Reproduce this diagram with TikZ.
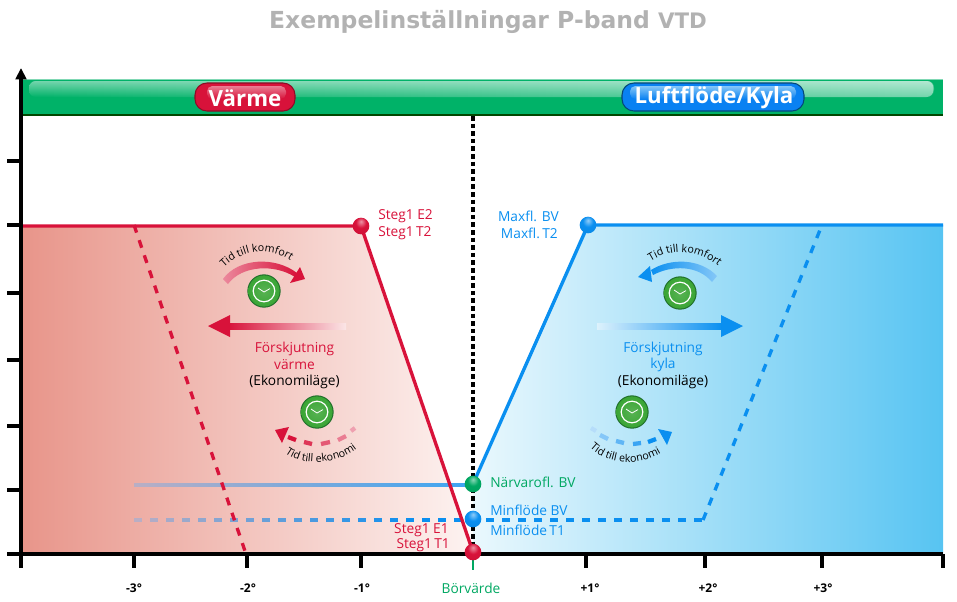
\documentclass[tikz,border=0pt]{standalone}
\usepackage{fontspec}
\setmainfont{Open Sans}
\newfontfamily\titlefont{DejaVu Sans}
\usepackage{tikz}
\usetikzlibrary{arrows.meta,calc,fadings}
\usetikzlibrary{positioning,decorations.text}

\definecolor{varmred}{HTML}{D8123A}
\definecolor{kylblue}{HTML}{0A8FF0}
\definecolor{barwgreen}{HTML}{00B268}
\definecolor{valgreen}{HTML}{00A862}
\definecolor{fadegray}{HTML}{B9AEC4}
\definecolor{redleft}{HTML}{E8958A}
\definecolor{redright}{HTML}{FDF3F1}
\definecolor{blueleft}{HTML}{EAF8FD}
\definecolor{blueright}{HTML}{57C4F2}
\definecolor{clockgreen}{HTML}{3AA535}
\definecolor{clockedge}{HTML}{1F6E2A}

\pgfdeclareradialshading{redball}{\pgfpoint{0bp}{14bp}}{color(0bp)=(varmred!45!white); color(16bp)=(varmred); color(48bp)=(varmred!92!black); color(62bp)=(varmred!45!black)}
\pgfdeclareradialshading{blueball}{\pgfpoint{0bp}{14bp}}{color(0bp)=(kylblue!45!white); color(16bp)=(kylblue); color(48bp)=(kylblue!92!black); color(62bp)=(kylblue!45!black)}
\pgfdeclareradialshading{greenball}{\pgfpoint{0bp}{14bp}}{color(0bp)=(valgreen!45!white); color(16bp)=(valgreen); color(48bp)=(valgreen!92!black); color(62bp)=(valgreen!45!black)}

\begin{document}
\begin{tikzpicture}[
      x=0.75pt, y=-0.75pt, on grid, inner sep=0pt,
      axisline/.style={draw=black, line width=2.4pt},
      tickline/.style={draw=black, line width=2.4pt},
      redline/.style={draw=varmred, line width=2.5pt},
      blueline/.style={draw=kylblue, line width=2.5pt},
      ballnode/.style={circle, minimum size=12.5pt},
      pillbox/.style={rounded corners=9pt, line width=0.8pt},
      pilltext/.style={text=white, font=\bfseries\fontsize{16.7}{20}\selectfont},
      lbl/.style={font=\fontsize{10.3}{12}\selectfont},
      ticklbl/.style={font=\bfseries\fontsize{9}{11}\selectfont},
      curvetxt/.style={decorate, decoration={text along path, text align=center,
            text={|\fontsize{8}{10}\selectfont|#1}}},
      clockicon/.pic={
        \fill[clockedge] (0,0) circle (12.5pt);
        \shade[inner color=clockgreen!85!white, outer color=clockgreen] (0,0) circle (11.7pt);
        \draw[white, line width=0.9pt] (0,0) circle (8.1pt);
        \draw[white, line width=0.6pt] (-6,-3) -- (0,1) -- (6,-2.4);
      }]

      \useasboundingbox (0,0) rectangle (957,601);

      % Areas
      \shade[left color=redleft, right color=redright]
            (22,225) -- (361,225) -- (473,554) -- (22,554) -- cycle;
      \shade[left color=blueleft, right color=blueright]
            (473,554) -- (473,485) -- (586,225) -- (943,225) -- (943,554) -- cycle;

      % Points
      \coordinate (e2) at (361,226);
      \coordinate (e1) at (473,552);
      \coordinate (bv) at (588,225);
      \coordinate (nv) at (473,484);
      \coordinate (mf) at (473,519);
      \coordinate (barbot) at (473,116);
      \coordinate (origin) at (21,554);
      \coordinate (axend) at (943,554);
      \coordinate (aytop) at (21,68);

      % Setpoint line
      \draw[black, line width=2.3pt, dash pattern=on 3.4pt off 2.3pt] (barbot) -- (473,554);

      % Min lines
      \shade[left color=fadegray, right color=kylblue!80!white]
            (134,483.3) rectangle (473,486.7);
      \foreach \dashx in {134,150,...,700} {
        \pgfmathsetmacro{\pct}{min(100,(\dashx-134)*0.36)}
        \draw[kylblue!\pct!fadegray, line width=2.4pt]
              (\dashx,520) -- ++(8,0);
      }
      \draw[blueline, dash pattern=on 6pt off 6pt] (703,520) -- (822,225);

      % Red and blue lines
      \draw[redline, dash pattern=on 6pt off 6pt] (134,225) -- (246,554);
      \draw[redline] (origin |- e2) -- (e2) -- (e1);
      \draw[blueline] (nv) -- (bv) -- (943,225);

      % Axes
      \draw[axisline] (origin) -- (7,554);
      \draw[axisline] (origin) -- (axend);
      \foreach \ypos in {490,426,360,293,225,161}
        \draw[tickline] (21,\ypos) -- (7,\ypos);
      \foreach \xpos in {21,134,247,361,586,705,822,943}
        \draw[tickline] (\xpos,554) -- (\xpos,568);
      \draw[valgreen, line width=2.1pt] (473,555) -- (473,570);

      % Bar
      \fill[barwgreen] (22,79) rectangle (943,116);
      \fill[barwgreen!50!white] (22,79) rectangle (943,80);
      \fill[black!65!green!80!black] (22,113.5) rectangle (943,116);
      \shade[top color=barwgreen!55!white, bottom color=barwgreen, rounded corners=5pt]
            (29,81) rectangle (934,97);
      \fill[white, opacity=0.45, path fading=west, rounded corners=5pt] (29,81) rectangle (934,97);
      \draw[axisline, -{Triangle[length=8.5pt,width=8pt]}] (origin) -- (aytop);

      % Pills
      \draw[pillbox, fill=varmred, draw=varmred!65!black] (195,83) rectangle (295,111);
      \shade[top color=varmred!55!white, bottom color=varmred, rounded corners=4pt] (207,86) rectangle (286,99);
      \draw[pillbox, fill=kylblue!90!blue, draw=kylblue!50!black] (622,83) rectangle (804,111);
      \shade[top color=kylblue!50!white, bottom color=kylblue!90!blue, rounded corners=4pt] (630,86) rectangle (796,99);
      \node[pilltext] (varme) at (245,98) {Värme};
      \node[pilltext] (luft) at (714,98) {Luftflöde/Kyla};

      % Title
      \node[text=black!30, font=\titlefont\bfseries\fontsize{17.6}{21}\selectfont] (title) at (488,22)
            {Exempelinställningar P-band {\fontsize{16}{21}\selectfont VTD}};

      % Balls
      \node[ballnode, shading=redball] (b1) at (e2) {};
      \node[ballnode, shading=blueball] (b2) at (bv) {};
      \node[ballnode, shading=greenball] (b3) at (nv) {};
      \node[ballnode, shading=blueball] (b4) at (mf) {};
      \node[ballnode, shading=redball] (b5) at (e1) {};

      % Labels
      \node[lbl, text=varmred, anchor=west] (s1) at (378,216) {Steg1 E2};
      \node[lbl, text=varmred, anchor=west] (s2) at (378,233) {Steg1\,T2};
      \node[lbl, text=kylblue, anchor=east] (m1) at (559,216) {Maxfl. BV};
      \node[lbl, text=kylblue, anchor=east] (m2) at (558,233) {Maxfl.\,T2};
      \node[lbl, text=valgreen, anchor=west] (n1) at (490,482) {Närvarofl. BV};
      \node[lbl, text=kylblue, anchor=west] (n2) at (490,510) {Minflöde BV};
      \node[lbl, text=kylblue, anchor=west] (n3) at (490,530) {Minflöde\,T1};
      \node[lbl, text=varmred, anchor=east] (s3) at (449,530) {Steg1 E1};
      \node[lbl, text=varmred, anchor=east] (s4) at (450,545) {Steg1\,T1};
      \node[lbl, text=valgreen] (bor) at (471,588) {Börvärde};
      \foreach \xpos/\xname in {134/-3,248/-2,362/-1,590/+1,708/+2,823/+3}
        \node[ticklbl] (t\xname) at (\xpos,588) {\xname°};

      % Shift arrows
      \shade[left color=varmred, right color=varmred!6!redright] (228,323) rectangle (346,329);
      \fill[varmred] (208,326) -- (230,315) -- (230,337) -- cycle;
      \shade[left color=kylblue!6!blueleft, right color=kylblue] (597,323) rectangle (722,329);
      \fill[kylblue] (743,326) -- (721,315) -- (721,337) -- cycle;

      \node[lbl, text=varmred] (fv) at (294.5,349) {Förskjutning};
      \node[lbl, text=varmred, below=12pt of fv] (fv2) {värme};
      \node[lbl, below=12.5pt of fv2] (fv3) {(Ekonomiläge)};
      \node[lbl, text=kylblue] (fk) at (663,349) {Förskjutning};
      \node[lbl, text=kylblue, below=12pt of fk] (fk2) {kyla};
      \node[lbl, below=12.5pt of fk2] (fk3) {(Ekonomiläge)};

      % Clocks
      \pic at (264,291) {clockicon};
      \pic at (317,412) {clockicon};
      \pic at (680,293) {clockicon};
      \pic at (632,412) {clockicon};

      % Comfort arrows
      \shade[left color=varmred!50!white, right color=varmred]
            (223,279) .. controls (238,258) and (275,256) .. (297,273) --
            (295,277) .. controls (275,264) and (242,265) .. (228,284) -- cycle;
      \fill[varmred] (290,283) -- (300,267) -- (305,279) -- cycle;
      \shade[left color=kylblue, right color=kylblue!50!white]
            (717,276) .. controls (700,258) and (670,258) .. (651,270) --
            (653,275) .. controls (672,265) and (698,265) .. (712,282) -- cycle;
      \fill[kylblue] (638,277) -- (650,266) -- (652,282) -- cycle;

      % Economy arrows
      \foreach \ax/\ay/\bx/\by/\pct in {288/437/296/440/100,304/442/312/444/85,321/444/330/442/70,338/440/346/436/55,351/431/355/428/40}
        \draw[varmred!\pct!white, line width=3.2pt] (\ax,\ay) -- (\bx,\by);
      \fill[varmred] (275,430) -- (289,427) -- (282,443) -- cycle;
      \foreach \ax/\ay/\bx/\by/\pct in {591/428/596/431/30,600/435/608/439/50,616/441/624/443/65,633/444/641/443/80,648/442/656/439/100}
        \draw[kylblue!\pct!white, line width=3.2pt] (\ax,\ay) -- (\bx,\by);
      \fill[kylblue] (658,429) -- (672,432) -- (667,445) -- cycle;

      % Curved text
      \path[curvetxt=Tid till komfort]
            (217,276) .. controls (238,246) and (276,244) .. (299,268);
      \path[curvetxt=Tid till komfort]
            (642,268) .. controls (665,246) and (702,246) .. (726,274);
      \path[curvetxt=Tid till ekonomi]
            (281,449) .. controls (298,468) and (340,466) .. (361,445);
      \path[curvetxt=Tid till ekonomi]
            (586,443) .. controls (603,466) and (642,468) .. (666,450);

\end{tikzpicture}
\end{document}
